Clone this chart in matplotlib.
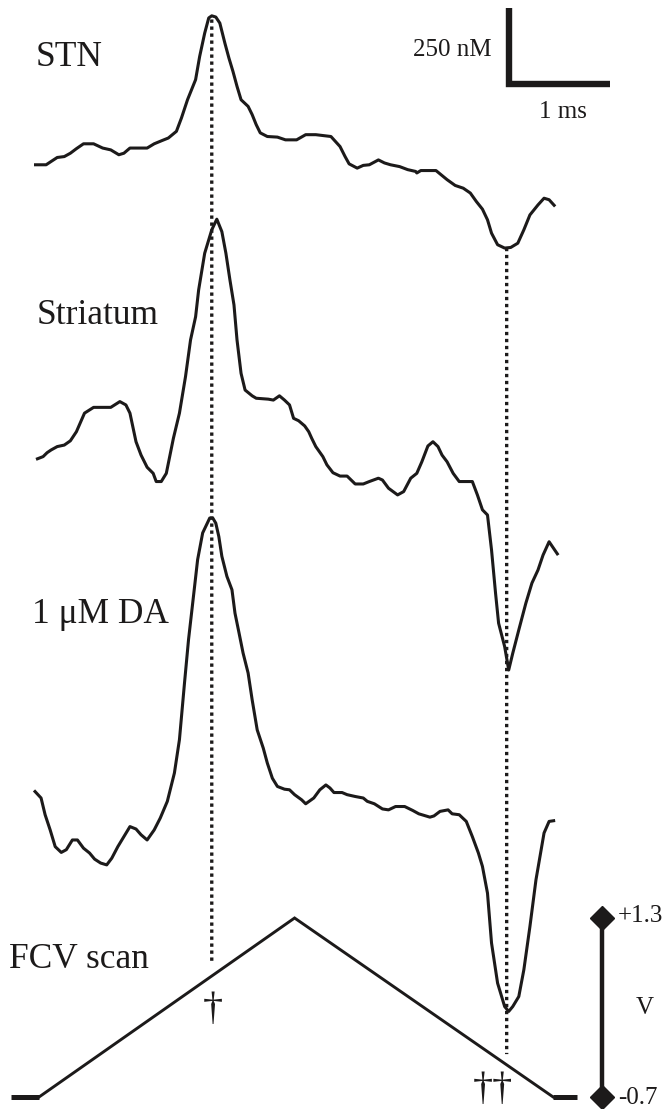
import numpy as np
import matplotlib
matplotlib.use("Agg")
import matplotlib.pyplot as plt
from matplotlib.patches import ConnectionPatch

# ---------------- data ----------------
# time (ms) and concentration (nM) of each averaged trace
stn_t = [0.00,0.12,0.17,0.23,0.30,0.36,0.42,0.49,0.59,0.68,0.76,0.84,0.89,0.95,1.12,1.19,1.27,1.33,1.41,1.46,
         1.52,1.60,1.64,1.69,1.73,1.76,1.80,1.84,1.89,1.93,1.97,2.01,2.05,2.12,2.16,2.20,2.24,2.31,2.41,2.49,
         2.60,2.69,2.79,2.94,3.03,3.08,3.12,3.20,3.26,3.32,3.41,3.47,3.53,3.62,3.70,3.78,3.79,3.83,3.98,4.09,
         4.17,4.25,4.32,4.38,4.44,4.49,4.53,4.59,4.66,4.72,4.79,4.85,4.91,4.99,5.05,5.10,5.16]
stn_c = [0,0,11,24,27,38,53,69,69,55,49,33,38,55,55,69,80,88,110,154,
         214,280,356,433,483,490,486,466,400,351,307,258,214,192,165,132,105,93,91,82,
         82,99,99,93,60,27,3,-11,-2,0,16,6,0,-6,-16,-22,-27,-19,-19,-49,
         -68,-77,-93,-121,-146,-181,-225,-263,-274,-272,-258,-214,-165,-132,-110,-115,-137]

str_t = [0.02,0.09,0.13,0.17,0.23,0.30,0.36,0.42,0.50,0.59,0.76,0.85,0.91,0.95,1.01,1.06,1.12,1.18,1.21,1.26,
         1.31,1.38,1.44,1.50,1.55,1.60,1.63,1.69,1.76,1.81,1.86,1.90,1.94,1.98,2.01,2.05,2.09,2.16,2.20,2.32,
         2.37,2.43,2.48,2.53,2.57,2.62,2.68,2.72,2.75,2.79,2.86,2.90,2.96,3.03,3.10,3.18,3.26,3.32,3.41,3.45,
         3.51,3.60,3.66,3.73,3.79,3.84,3.90,3.95,4.00,4.04,4.09,4.15,4.21,4.34,4.39,4.44,4.49,4.53,4.57,4.60,
         4.66,4.70,4.74,4.80,4.87,4.93,4.99,5.04,5.10,5.19]
str_c = [2,11,24,33,44,49,63,93,154,173,173,192,181,154,60,16,-24,-44,-71,-71,
         -44,71,154,274,395,471,559,680,757,792,751,680,592,510,395,285,230,211,203,200,
         197,211,197,181,137,129,112,93,71,44,11,-16,-42,-53,-53,-79,-79,-71,-60,-66,
         -93,-115,-104,-60,-44,-6,46,60,44,16,-6,-44,-71,-71,-115,-164,-181,-296,-439,-537,
         -614,-691,-636,-559,-471,-405,-362,-313,-269,-313]

da_t = [0.00,0.07,0.11,0.16,0.21,0.27,0.32,0.38,0.43,0.49,0.55,0.60,0.66,0.72,0.77,0.83,0.89,0.95,1.01,1.06,
        1.12,1.19,1.25,1.32,1.39,1.44,1.49,1.53,1.59,1.62,1.67,1.74,1.77,1.80,1.83,1.86,1.91,1.96,1.99,2.03,
        2.07,2.12,2.16,2.21,2.27,2.31,2.36,2.41,2.48,2.53,2.58,2.65,2.69,2.77,2.83,2.89,2.93,2.97,3.05,3.10,
        3.18,3.26,3.30,3.37,3.45,3.51,3.58,3.67,3.75,3.81,3.92,3.96,4.02,4.10,4.14,4.21,4.28,4.34,4.40,4.44,
        4.49,4.53,4.59,4.66,4.70,4.74,4.80,4.85,4.91,4.97,5.05,5.10,5.16]
da_c = [-2,-27,-82,-132,-187,-206,-197,-165,-165,-192,-208,-228,-241,-247,-225,-187,-154,-121,-129,-148,
        -165,-132,-93,-38,55,165,351,494,669,757,845,894,894,877,833,768,702,658,581,516,
        450,384,296,197,137,88,38,11,2,0,-16,-33,-46,-27,0,16,6,-9,-9,-16,
        -22,-27,-38,-46,-63,-66,-55,-55,-68,-79,-90,-86,-71,-66,-79,-82,-104,-154,-208,-252,
        -340,-504,-636,-713,-729,-713,-680,-592,-450,-296,-142,-104,-101]

# FCV triangular waveform (time in ms, potential in V)
fcv_t = [-0.23, 0.05, 2.58, 5.14, 5.38]
fcv_v = [-0.7, -0.7, 1.3, -0.7, -0.7]

labels = ["STN", "Striatum", "1 \u03bcM DA"]
peak_time = 1.76     # oxidation peak (dagger)
trough_time = 4.68   # reduction peak (double dagger)
scale_nM = 250
scale_ms = 1
v_limits = [-0.7, 1.3]

# ---------------- layout ----------------
W, H = 667, 1109
PX_PER_MS = 101.0
NM_PER_PX = 250.0 / 76.0
T0_PX = 34.0
V_PER_PX = 2.0 / 179.0

ink = "#1c1a1a"
serif = ["Liberation Serif", "DejaVu Serif"]

fig = plt.figure(figsize=(W / 100, H / 100), dpi=100)
ax = fig.add_axes([0, 0, 1, 1])
ax.set_xlim(-T0_PX / PX_PER_MS, (W - T0_PX) / PX_PER_MS)
ax.set_ylim(0, H * NM_PER_PX)
ax.axis("off")

axv = fig.add_axes([0, 0, 1, 1])
axv.patch.set_alpha(0)
axv.set_xlim(ax.get_xlim())
v_bottom = -0.7 - 12 * V_PER_PX
axv.set_ylim(v_bottom, v_bottom + H * V_PER_PX)
axv.axis("off")

offsets = [3106, 2135, 1050]
traces = [(stn_t, stn_c), (str_t, str_c), (da_t, da_c)]
for (t, c), off in zip(traces, offsets):
    ax.plot(t, np.array(c) + off, color=ink, lw=2.2, solid_joinstyle="round",
            solid_capstyle="butt")

# FCV waveform
axv.plot(fcv_t[1:4], fcv_v[1:4], color=ink, lw=2.1, solid_joinstyle="miter")
axv.plot(fcv_t[0:2], fcv_v[0:2], color=ink, lw=3.6, solid_capstyle="butt")
axv.plot(fcv_t[3:5], fcv_v[3:5], color=ink, lw=3.6, solid_capstyle="butt")

# dotted guide lines
for tt, gap in [(peak_time, 0.13), (trough_time, 0.12)]:
    y_top = np.interp(tt, stn_t, stn_c) + offsets[0]
    if tt == peak_time:
        y_top -= 12
    v_bot = np.interp(tt, fcv_t, fcv_v) + gap
    con = ConnectionPatch(xyA=(tt, y_top), coordsA=ax.transData,
                          xyB=(tt, v_bot), coordsB=axv.transData,
                          color=ink, lw=2.4, linestyle=(0, (1.0, 1.1)),
                          capstyle="butt")
    fig.add_artist(con)

# scale bar (250 nM, 1 ms)
sb_t = (508.5 - T0_PX) / PX_PER_MS
sb_y = (H - 83.5) * NM_PER_PX
ax.plot([sb_t, sb_t, sb_t + scale_ms], [sb_y + scale_nM, sb_y, sb_y],
        color=ink, lw=4.6, solid_joinstyle="miter", solid_capstyle="butt")

# voltage scale bar
vb_t = (602 - T0_PX) / PX_PER_MS
axv.plot([vb_t, vb_t], v_limits, color=ink, lw=3.2, solid_capstyle="butt")
axv.plot([vb_t, vb_t], v_limits, ls="none", marker="D", ms=12, color=ink)

def ftext(xpx, ypx, s, size, ha="left", va="baseline"):
    fig.text(xpx / W, 1 - ypx / H, s, fontsize=size, ha=ha, va=va,
             family=serif, color=ink)

ftext(36, 66, labels[0], 25.5)
ftext(37, 324, labels[1], 25.5)
ftext(32, 623, labels[2], 25.5)
ftext(9, 968, "FCV scan", 25.5)
ftext(492, 56, f"{scale_nM} nM", 18, ha="right")
ftext(563, 118, f"{scale_ms} ms", 18, ha="center")
ftext(618, 922, "+1.3", 18)
ftext(618, 1104, "-0.7", 18)
ftext(645, 1008, "V", 18, ha="center", va="center")
ftext(213, 1010, "\u2020", 29, ha="center", va="center")
ftext(493, 1090, "\u2020\u2020", 29, ha="center", va="center")

fig.savefig("out.png", dpi=100, facecolor="white")
